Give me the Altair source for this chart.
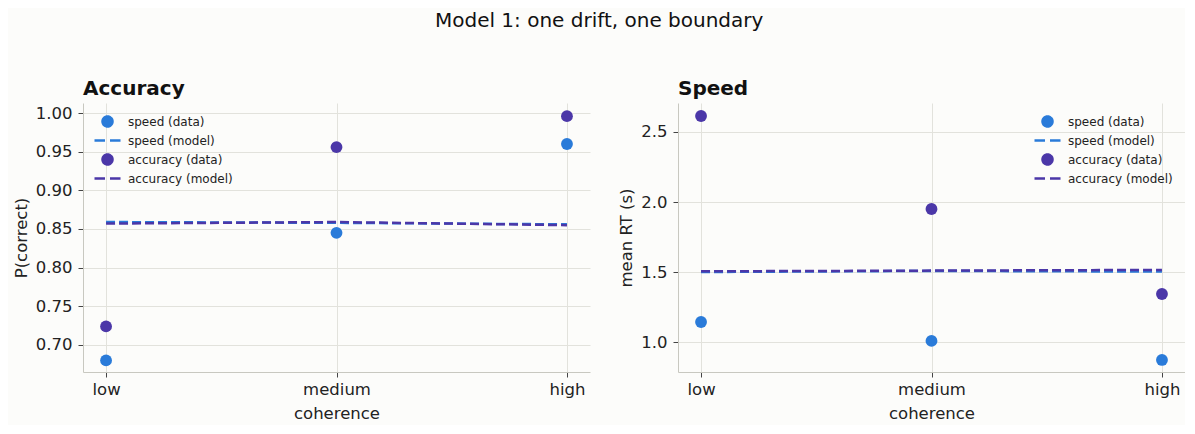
import altair as alt
import pandas as pd

coherence = ["low", "medium", "high"]
series_order = ["speed (data)", "speed (model)", "accuracy (data)", "accuracy (model)"]
series_colors = ["#2a7bd9", "#2a7bd9", "#4b37a8", "#4b37a8"]

# Accuracy panel: P(correct)
acc_speed_data = [0.680, 0.845, 0.960]
acc_accuracy_data = [0.724, 0.956, 0.996]
acc_speed_model = [0.859, 0.858, 0.856]
acc_accuracy_model = [0.857, 0.859, 0.855]

# Speed panel: mean RT (s)
rt_speed_data = [1.143, 1.008, 0.872]
rt_accuracy_data = [2.614, 1.950, 1.343]
rt_speed_model = [1.500, 1.508, 1.503]
rt_accuracy_model = [1.505, 1.510, 1.515]

FONT = "DejaVu Sans"
IS_MODEL = "indexof(datum.label, 'model') >= 0"


def make_df(sd, ad, sm, am):
    rows = []
    for c, v in zip(coherence, sd):
        rows.append({"coherence": c, "value": v, "series": "speed (data)", "kind": "data"})
    for c, v in zip(coherence, sm):
        rows.append({"coherence": c, "value": v, "series": "speed (model)", "kind": "model"})
    for c, v in zip(coherence, ad):
        rows.append({"coherence": c, "value": v, "series": "accuracy (data)", "kind": "data"})
    for c, v in zip(coherence, am):
        rows.append({"coherence": c, "value": v, "series": "accuracy (model)", "kind": "model"})
    return pd.DataFrame(rows)


def panel(df, title, ytitle, ydomain, yvalues, yfmt, legend_pos):
    legend_kw = dict(
        title=None,
        labelFont=FONT,
        labelFontSize=12,
        labelColor="#222",
        symbolType={"expr": IS_MODEL + " ? 'M-2.6,0H2.6' : 'circle'"},
        symbolDash={"expr": IS_MODEL + " ? [10.5, 5] : [1, 0]"},
        symbolSize=100,
        symbolStrokeWidth=2.5,
        rowPadding=2,
        labelOffset=14,
        padding=4,
    )
    legend_kw.update(legend_pos)
    color = alt.Color(
        "series:N",
        scale=alt.Scale(domain=series_order, range=series_colors),
        legend=alt.Legend(**legend_kw),
    )
    x = alt.X(
        "coherence:N",
        sort=coherence,
        scale=alt.Scale(type="point", domain=coherence, padding=0.1),
        title="coherence",
        axis=alt.Axis(labelAngle=0, grid=True),
    )
    y = alt.Y(
        "value:Q",
        scale=alt.Scale(domain=ydomain, nice=False, zero=False),
        title=ytitle,
        axis=alt.Axis(values=yvalues, format=yfmt),
    )
    lines = alt.Chart(df).transform_filter(alt.datum.kind == "model").mark_line(
        strokeDash=[9, 4], strokeWidth=2.5
    ).encode(x=x, y=y, color=color, detail="series:N")
    points = alt.Chart(df).transform_filter(alt.datum.kind == "data").mark_circle(
        size=140, opacity=1
    ).encode(x=x, y=y, color=color)
    return alt.layer(points, lines).properties(
        width=507,
        height=269,
        title=alt.TitleParams(title, anchor="start", frame="group", fontSize=20, fontWeight="bold",
                              font=FONT, color="#111", offset=4),
    )


left = panel(
    make_df(acc_speed_data, acc_accuracy_data, acc_speed_model, acc_accuracy_model),
    "Accuracy", "P(correct)", [0.665, 1.013],
    [0.70, 0.75, 0.80, 0.85, 0.90, 0.95, 1.00], ".2f",
    {"orient": "none", "legendX": 14, "legendY": 8},
)
right = panel(
    make_df(rt_speed_data, rt_accuracy_data, rt_speed_model, rt_accuracy_model),
    "Speed", "mean RT (s)", [0.786, 2.707],
    [1.0, 1.5, 2.0, 2.5], ".1f",
    {"orient": "top-right", "offset": 8},
)

chart = alt.hconcat(left, right, spacing=28).resolve_scale(color="independent").resolve_legend(
    color="independent"
).properties(
    title=alt.TitleParams("Model 1: one drift, one boundary", anchor="middle", fontSize=20,
                          fontWeight="normal", font=FONT, color="#111", offset=48),
    background="#fcfcfa",
    padding={"left": 5, "top": 3, "right": 0, "bottom": 3},
).configure_view(stroke=None).configure_axis(
    labelFont=FONT,
    titleFont=FONT,
    labelFontSize=16.5,
    titleFontSize=16.5,
    labelColor="#222",
    titleColor="#222",
    titleFontWeight="normal",
    domainColor="#c8c8c0",
    gridColor="#e2e2dc",
    tickColor="#444",
    tickSize=5,
).configure_axisX(
    labelPadding=4,
    titlePadding=8,
).configure_axisY(
    labelPadding=6,
    titlePadding=6,
)

chart.save("out.html", embed_options={"renderer": "svg", "actions": False})
